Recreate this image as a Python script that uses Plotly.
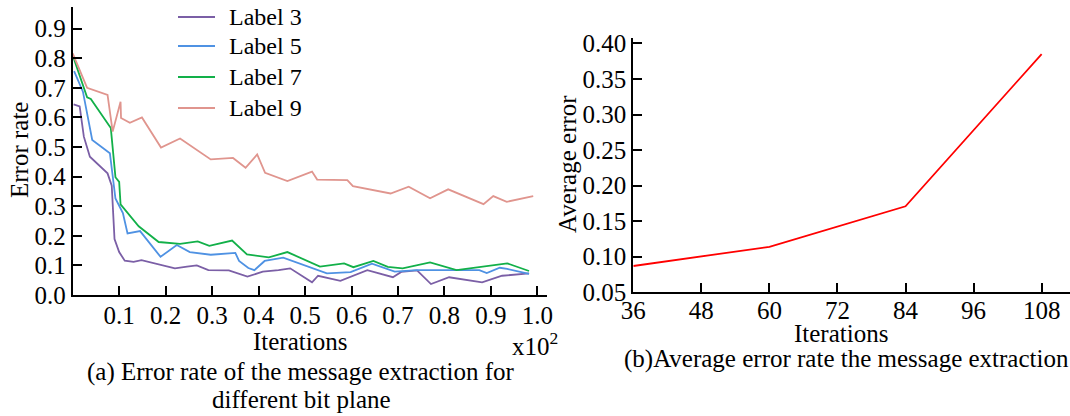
import plotly.graph_objects as go

W, H = 1070, 416
FONT = "Liberation Serif"

# ---- Data: panel (a) error rate vs iterations (x10^2) ----
label3_x = [0.002, 0.015, 0.024, 0.037, 0.075, 0.084, 0.090, 0.100, 0.112, 0.131, 0.148, 0.220, 0.246, 0.267,
            0.292, 0.336, 0.376, 0.409, 0.443, 0.468, 0.515, 0.528, 0.576, 0.634, 0.689, 0.707, 0.741, 0.771,
            0.810, 0.881, 0.924, 0.982]
label3_y = [0.644, 0.637, 0.535, 0.467, 0.411, 0.369, 0.189, 0.145, 0.116, 0.112, 0.118, 0.090, 0.096, 0.100,
            0.084, 0.083, 0.062, 0.079, 0.084, 0.090, 0.043, 0.065, 0.048, 0.084, 0.060, 0.078, 0.083, 0.037,
            0.060, 0.043, 0.065, 0.073]

label5_x = [0.003, 0.022, 0.042, 0.080, 0.092, 0.108, 0.118, 0.145, 0.189, 0.224, 0.252, 0.297, 0.350, 0.358,
            0.378, 0.391, 0.413, 0.453, 0.547, 0.598, 0.644, 0.693, 0.741, 0.875, 0.891, 0.919, 0.935, 0.982]
label5_y = [0.756, 0.687, 0.524, 0.479, 0.326, 0.277, 0.208, 0.216, 0.129, 0.169, 0.145, 0.136, 0.142, 0.115,
            0.091, 0.084, 0.115, 0.126, 0.073, 0.077, 0.106, 0.079, 0.084, 0.084, 0.074, 0.092, 0.088, 0.071]

label7_x = [0.000, 0.031, 0.039, 0.082, 0.092, 0.100, 0.103, 0.142, 0.185, 0.231, 0.269, 0.294, 0.343, 0.375,
            0.422, 0.462, 0.532, 0.584, 0.604, 0.647, 0.678, 0.710, 0.769, 0.826, 0.935, 0.982]
label7_y = [0.810, 0.668, 0.662, 0.564, 0.398, 0.382, 0.306, 0.232, 0.179, 0.173, 0.181, 0.166, 0.184, 0.137,
            0.127, 0.145, 0.096, 0.107, 0.094, 0.115, 0.095, 0.090, 0.110, 0.084, 0.107, 0.081]

label9_x = [0.000, 0.031, 0.075, 0.086, 0.103, 0.104, 0.123, 0.149, 0.190, 0.231, 0.297, 0.345, 0.372, 0.397,
            0.414, 0.462, 0.515, 0.526, 0.591, 0.603, 0.684, 0.723, 0.769, 0.808, 0.884, 0.905, 0.934, 0.991]
label9_y = [0.816, 0.700, 0.676, 0.552, 0.653, 0.598, 0.582, 0.600, 0.498, 0.529, 0.458, 0.463, 0.430, 0.475,
            0.413, 0.385, 0.417, 0.390, 0.388, 0.368, 0.343, 0.366, 0.327, 0.357, 0.307, 0.334, 0.315, 0.334]

series_names = ["Label 3", "Label 5", "Label 7", "Label 9"]
series_colors = ["#7b5fa6", "#4f92e3", "#12b049", "#e0958e"]

a_xticks = [0.1, 0.2, 0.3, 0.4, 0.5, 0.6, 0.7, 0.8, 0.9, 1.0]
a_yticks = [0.0, 0.1, 0.2, 0.3, 0.4, 0.5, 0.6, 0.7, 0.8, 0.9]

# ---- Data: panel (b) average error vs iterations ----
b_x = [36, 60, 84, 108]
b_y = [0.087, 0.114, 0.171, 0.385]
b_xticks = [36, 48, 60, 72, 84, 96, 108]
b_yticks = [0.05, 0.10, 0.15, 0.20, 0.25, 0.30, 0.35, 0.40]


def px(x):
    return x / W


def py(y):
    return 1 - y / H


fig = go.Figure()
for xs, ys, name, col in zip([label3_x, label5_x, label7_x, label9_x],
                             [label3_y, label5_y, label7_y, label9_y],
                             series_names, series_colors):
    fig.add_trace(go.Scatter(x=xs, y=ys, mode="lines", name=name, showlegend=False,
                             line=dict(color=col, width=1.8),
                             xaxis="x", yaxis="y"))

fig.add_trace(go.Scatter(x=b_x, y=b_y, mode="lines", name="avg", showlegend=False,
                         line=dict(color="#ff0000", width=1.8), xaxis="x2", yaxis="y2"))

TS = 25
axis_common = dict(showline=True, linecolor="black", linewidth=2, showgrid=False, zeroline=False,
                   ticks="inside", ticklen=9, tickwidth=2, tickcolor="black", automargin=False,
                   tickfont=dict(family=FONT, size=TS, color="black"))

fig.update_layout(
    width=W, height=H,
    margin=dict(l=0, r=0, t=0, b=0, autoexpand=False),
    paper_bgcolor="white", plot_bgcolor="white",
    font=dict(family=FONT, size=TS, color="black"),
    showlegend=False,
    xaxis=dict(domain=[px(72.7), px(546.7)], range=[0, 1.02], anchor="y",
               tickvals=a_xticks, ticktext=[f"{v:.1f}" for v in a_xticks], ticklabelstandoff=-3,
               **axis_common),
    yaxis=dict(domain=[py(295), py(7)], range=[0, 0.973], anchor="x",
               tickvals=a_yticks, ticktext=[f"{v:.1f}" for v in a_yticks], ticklabelstandoff=0,
               **axis_common),
    xaxis2=dict(domain=[px(633.3), 1.0], range=[36, 113], anchor="y2",
                tickvals=b_xticks, ticktext=[str(v) for v in b_xticks], ticklabelstandoff=-5,
                **axis_common),
    yaxis2=dict(domain=[py(292.3), py(37.7)], range=[0.05, 0.408], anchor="x2",
                tickvals=b_yticks, ticktext=[f"{v:.2f}" for v in b_yticks], ticklabelstandoff=0,
                **axis_common),
)

# Legend (panel a): key lines + labels, placed in paper space
legend_rows_y = [17, 46, 77, 108]
for name, col, ly in zip(series_names, series_colors, legend_rows_y):
    fig.add_shape(type="line", xref="paper", yref="paper",
                  x0=px(178), x1=px(215), y0=py(ly), y1=py(ly),
                  line=dict(color=col, width=2))
    fig.add_annotation(text=name, x=px(227), y=py(ly), xref="paper", yref="paper",
                       xanchor="left", yanchor="middle", showarrow=False,
                       font=dict(family=FONT, size=24, color="black"))

ann = [
    ("Error rate", 19, 150, TS, -90),
    ("Iterations", 300, 341, TS, 0),
    ("x10<sup>2</sup>", 535, 344, TS, 0),
    ("(a) Error rate of the message extraction for", 301, 372, TS, 0),
    ("different bit plane", 301, 399, TS, 0),
    ("Average error", 568, 164, TS, -90),
    ("Iterations", 841, 333, TS, 0),
    ("(b)Average error rate the message extraction", 846, 359, TS, 0),
]
for text, x, y, size, ang in ann:
    fig.add_annotation(text=text, x=px(x), y=py(y), xref="paper", yref="paper",
                       xanchor="center", yanchor="middle", showarrow=False, textangle=ang,
                       font=dict(family=FONT, size=size, color="black"))

fig.write_html("out.html", config={"displayModeBar": False},
               post_script="document.body.style.margin='0';document.body.style.overflow='hidden';")
